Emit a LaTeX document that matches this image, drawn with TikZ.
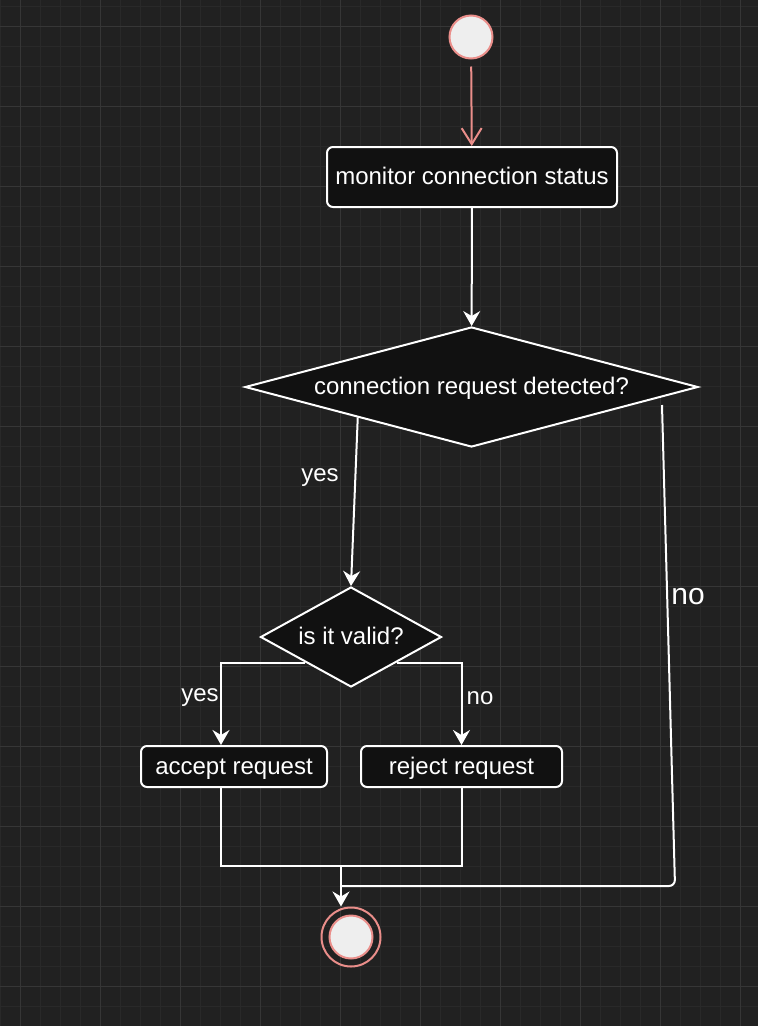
\documentclass[tikz,border=0pt]{standalone}
\usepackage{fontspec}
\setmainfont{Liberation Sans}
\usetikzlibrary{calc, positioning, arrows.meta, shapes.geometric}
\definecolor{canvas}{HTML}{212121}
\definecolor{minorgrid}{HTML}{292929}
\definecolor{majorgrid}{HTML}{363636}
\definecolor{boxfill}{HTML}{111111}
\definecolor{salmon}{HTML}{EA8E8A}
\definecolor{dotfill}{HTML}{EEEEEE}

\begin{document}
\begin{tikzpicture}
			[x=1pt, y=-1pt,
			font=\fontsize{24}{28}\selectfont,
			action/.style={draw=white, line width=2pt, fill=boxfill, rounded corners=6pt, text=white, inner sep=0pt, text height=17pt, text depth=2pt},
			decision/.style={diamond, draw=white, line width=2pt, fill=boxfill, text=white, inner sep=0pt, text height=17pt, text depth=2pt},
			dot/.style={circle, inner sep=0pt, fill=dotfill, draw=salmon, line width=2pt},
			link/.style={draw=white, line width=2pt},
			flow/.style={link, -{Stealth[length=15pt, width=17pt, inset=5pt]}},
			lbl/.style={text=white}]
			% canvas %
			\useasboundingbox (0,0) rectangle (758,1026);
			\fill[canvas] (0,0) rectangle (758,1026);
			\foreach \gx in {0,20,...,758} \draw[minorgrid, line width=1pt] (\gx,0) -- (\gx,1026);
			\foreach \gy in {6,26,...,1026} \draw[minorgrid, line width=1pt] (0,\gy) -- (758,\gy);
			\foreach \gx in {20,100,...,758} \draw[majorgrid, line width=1pt] (\gx,0) -- (\gx,1026);
			\foreach \gy in {26,106,...,1026} \draw[majorgrid, line width=1pt] (0,\gy) -- (758,\gy);

			% nodes %
			\node[dot, minimum size=43pt] (start) at (471,37) {};
			\node[action, minimum width=290pt, minimum height=60pt] (monitor) at (472,177) {monitor connection status};
			\node[decision, minimum width=453pt, minimum height=120pt, aspect=3.78] (detect) at (471.5,387) {connection request detected?};
			\node[decision, minimum width=181pt, minimum height=100pt, aspect=1.81] (valid) at (351,637) {is it valid?};
			\node[action, minimum width=186pt, minimum height=41pt] (accept) at (234,766.5) {accept request};
			\node[action, minimum width=201pt, minimum height=41pt] (reject) at (461.5,766.5) {reject request};
			\node[circle, minimum size=59pt, inner sep=0pt, draw=salmon, line width=2pt] (stop) at (351,937) {};
			\node[dot, minimum size=43pt] (stopdot) at (stop) {};

			% labels %
			\node[lbl] (yesdetect) at (320,478) {yes};
			\node[lbl, font=\fontsize{30}{34}\selectfont] (nodetect) at (688,597) {no};
			\node[lbl] (yesvalid) at (200,698) {yes};
			\node[lbl] (novalid) at (480,698) {no};

			% helper points %
			\coordinate (noout) at (662,405);
			\coordinate (nocorner) at (675,886);
			\coordinate (join) at (341,866);
			\coordinate (merge) at (341,886);

			% edges %
			\draw[salmon, line width=2pt, shorten <=7pt, -{Straight Barb[length=16pt, width=20pt]}] (start) -- (monitor);
			\draw[flow] (monitor) -- (detect);
			\draw[flow] (detect.south west) -- (valid.north);
			\draw[flow] (valid.south west) -| ([xshift=-13pt]accept.north);
			\draw[flow] (valid.south east) -| (reject.north);
			\draw[link] ([xshift=-13pt]accept.south) |- (join) -| (reject.south);
			\draw[link, rounded corners=6pt] (noout) -- (nocorner) -- (merge);
			\draw[flow] (join) -- (join |- stop.north);
\end{tikzpicture}
\end{document}
